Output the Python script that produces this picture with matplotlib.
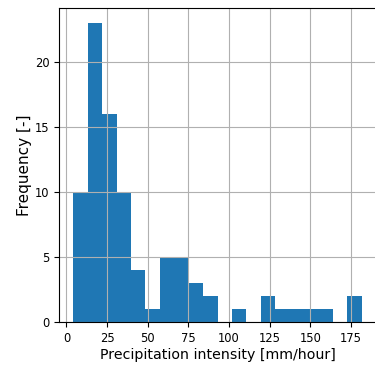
import numpy as np
import matplotlib
matplotlib.use("Agg")
import matplotlib.pyplot as plt

# histogram: 20 bins between ~4.3 and ~181.4 mm/hour
bin_lo = 4.3
bin_hi = 181.4
counts = [10, 23, 16, 10, 4, 1, 5, 5, 3, 2, 0, 1, 0, 2, 1, 1, 1, 1, 0, 2]
x_ticks = [0, 25, 50, 75, 100, 125, 150, 175]
y_ticks = [0, 5, 10, 15, 20]


def main():
    edges = np.linspace(bin_lo, bin_hi, len(counts) + 1)
    centers = (edges[:-1] + edges[1:]) / 2

    fig = plt.figure(figsize=(3.75, 3.65), dpi=100)
    ax = fig.add_axes([59 / 375, 1 - 322 / 365, 317 / 375, 314 / 365])
    ax.hist(centers, bins=edges, weights=counts, color="#1f77b4")
    ax.grid(True)

    ax.set_xticks(x_ticks)
    ax.set_yticks(y_ticks)
    ax.tick_params(labelsize=8.3)
    ax.set_xlabel("Precipitation intensity [mm/hour]", fontsize=10.2, labelpad=2)
    ax.set_ylabel("Frequency [-]", fontsize=11, labelpad=2)

    fig.savefig("out.png", dpi=100)


if __name__ == "__main__":
    main()
